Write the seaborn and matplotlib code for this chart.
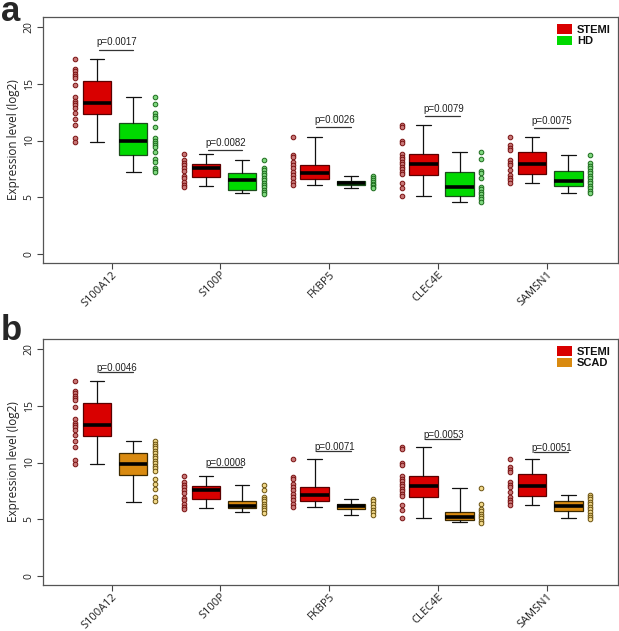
import numpy as np
import pandas as pd
import matplotlib
matplotlib.use('Agg')
import matplotlib.pyplot as plt
from matplotlib.patches import Patch
import seaborn as sns

sns.set_style('white')
plt.rcParams['font.family'] = ['Open Sans', 'DejaVu Sans']

# Data

genes = ['S100A12', 'S100P', 'FKBP5', 'CLEC4E', 'SAMSN1']

# box stats per gene: whisker low, Q1, median, Q3, whisker high
stemi_box = [[9.90, 12.35, 13.33, 15.25, 17.23],
             [5.97, 6.81, 7.55, 7.93, 8.78],
             [6.12, 6.61, 7.11, 7.84, 10.28],
             [5.14, 6.93, 7.93, 8.81, 11.37],
             [6.23, 7.02, 7.93, 9.01, 10.34]]
hd_box = [[7.25, 8.72, 9.99, 11.51, 13.86],
          [5.35, 5.64, 6.52, 7.16, 8.28],
          [5.79, 6.08, 6.26, 6.43, 6.90],
          [4.58, 5.11, 5.93, 7.25, 9.01],
          [5.35, 6.02, 6.43, 7.28, 8.69]]
scad_box = [[6.51, 8.94, 9.87, 10.80, 11.86],
            [5.64, 5.95, 6.20, 6.57, 8.03],
            [5.40, 5.93, 6.13, 6.31, 6.75],
            [4.73, 4.97, 5.20, 5.67, 7.77],
            [5.11, 5.72, 6.16, 6.60, 7.10]]

# individual samples (strip of dots beside each box)
stemi_points = [[17.2, 16.3, 16.1, 15.9, 15.7, 15.5, 14.9, 13.8, 13.5, 13.3, 13.1, 12.9, 12.4, 11.9, 11.4, 10.2, 9.9],
                [8.78, 8.28, 8.05, 7.84, 7.60, 7.34, 6.87, 6.67, 6.37, 6.08, 5.93],
                [10.28, 8.72, 8.52, 8.13, 7.84, 7.55, 7.25, 6.96, 6.67, 6.37, 6.08],
                [11.37, 11.16, 9.99, 9.75, 8.81, 8.57, 8.34, 8.13, 7.93, 7.69, 7.49, 7.25, 7.05, 6.28, 5.79, 5.14],
                [10.34, 9.60, 9.37, 9.16, 8.28, 8.05, 7.84, 7.40, 6.96, 6.72, 6.52, 6.28]]
hd_points = [[13.86, 13.19, 12.45, 12.16, 11.95, 11.22, 10.19, 9.99, 9.81, 9.60, 9.40, 9.01, 8.34, 8.13, 7.60, 7.40, 7.25],
             [8.28, 7.60, 7.40, 7.16, 6.96, 6.72, 6.52, 6.28, 6.08, 5.87, 5.64, 5.43, 5.26],
             [6.90, 6.70, 6.50, 6.35, 6.20, 6.05, 5.90, 5.79],
             [9.01, 8.34, 7.34, 7.11, 6.67, 5.93, 5.73, 5.49, 5.29, 5.05, 4.85, 4.61],
             [8.69, 7.99, 7.75, 7.55, 7.34, 7.11, 6.87, 6.67, 6.43, 6.23, 5.99, 5.79, 5.58, 5.35]]
scad_points = [[11.92, 11.68, 11.48, 11.27, 11.04, 10.80, 10.60, 10.40, 10.17, 9.96, 9.73, 9.52, 9.29, 8.56, 8.12, 7.68, 6.95, 6.57],
               [8.03, 7.60, 6.95, 6.75, 6.57, 6.37, 6.16, 5.98, 5.78, 5.58],
               [6.81, 6.57, 6.31, 6.07, 5.84, 5.64, 5.40],
               [7.77, 6.37, 5.93, 5.69, 5.49, 5.28, 5.08, 4.85, 4.70],
               [7.16, 6.95, 6.75, 6.51, 6.31, 6.07, 5.87, 5.64, 5.40, 5.20, 4.99]]

pvals_hd = ['p=0.0017', 'p=0.0082', 'p=0.0026', 'p=0.0079', 'p=0.0075']
pbar_hd = [18.0, 9.16, 11.2, 12.16, 11.07]
pvals_scad = ['p=0.0046', 'p=0.0008', 'p=0.0071', 'p=0.0053', 'p=0.0051']
pbar_scad = [17.97, 9.6, 11.04, 12.07, 10.9]

# Styles

RED, RED_EDGE, RED_PT, RED_PT_EDGE = '#d90000', '#5a0000', '#c87878', '#7a1010'
GREEN, GREEN_EDGE, GREEN_PT, GREEN_PT_EDGE = '#00d900', '#1c4d1c', '#7fd87f', '#1d6b1d'
GOLD, GOLD_EDGE, GOLD_PT, GOLD_PT_EDGE = '#d98a10', '#3d2a00', '#f2d98a', '#6b5210'
TEXT = '#222222'
ARIAL = ['Liberation Sans', 'DejaVu Sans']


def to_stats(box_rows):
    return [dict(whislo=r[0], q1=r[1], med=r[2], q3=r[3], whishi=r[4], fliers=[])
            for r in box_rows]


def to_frame(points, offset):
    rows = []
    for i, vals in enumerate(points):
        for v in vals:
            rows.append({'gene': genes[i], 'x': 3 * i + offset, 'value': v})
    return pd.DataFrame(rows)


def draw_panel(ax, ctrl_box, ctrl_points, ctrl_name, ctrl_style, pvals, pbar, txt_off):
    ctrl_col, ctrl_edge, ctrl_pt, ctrl_pt_edge = ctrl_style
    n = len(genes)
    pos_stemi = [3 * i + 1 for i in range(n)]
    pos_ctrl = [3 * i + 2 for i in range(n)]

    for stats, pos, fc, ec in [(to_stats(stemi_box), pos_stemi, RED, RED_EDGE),
                               (to_stats(ctrl_box), pos_ctrl, ctrl_col, ctrl_edge)]:
        ax.bxp(stats, positions=pos, widths=0.78, capwidths=0.4,
               patch_artist=True, showfliers=False,
               boxprops=dict(facecolor=fc, edgecolor=ec, linewidth=0.9),
               medianprops=dict(color='black', linewidth=2.6, solid_capstyle='butt'),
               whiskerprops=dict(color='#111111', linewidth=0.9),
               capprops=dict(color='#111111', linewidth=0.9))

    sns.scatterplot(data=to_frame(stemi_points, 1 - 0.6), x='x', y='value', ax=ax,
                    color=RED_PT, edgecolor=RED_PT_EDGE, linewidth=0.7, s=11, zorder=3)
    sns.scatterplot(data=to_frame(ctrl_points, 2 + 0.6), x='x', y='value', ax=ax,
                    color=ctrl_pt, edgecolor=ctrl_pt_edge, linewidth=0.7, s=11, zorder=3)

    for i in range(n):
        ax.plot([pos_stemi[i] + 0.05, pos_ctrl[i]], [pbar[i], pbar[i]],
                color='#333333', lw=0.9)
        ax.annotate(pvals[i], xy=((pos_stemi[i] + pos_ctrl[i]) / 2 + 0.05, pbar[i]),
                    xytext=(0, txt_off), textcoords='offset points',
                    ha='center', va='baseline', fontsize=7, color=TEXT, family=ARIAL)

    ax.set_xlim(-0.49, 15.37)
    ax.set_ylim(-0.8, 20.9)
    ax.set_yticks([0, 5, 10, 15, 20])
    ax.set_yticklabels(['0', '5', '10', '15', '20'], rotation=90, va='center',
                       fontsize=7.5, color=TEXT)
    ax.set_xticks([3 * i + 1.4 for i in range(n)])
    ax.set_xticklabels(genes, rotation=45, ha='right', va='top',
                       rotation_mode='anchor', fontsize=8, color=TEXT)
    ax.tick_params(axis='both', which='both', direction='out', length=4, width=0.8,
                   color='#444444', pad=2, left=True, bottom=True)
    ax.tick_params(axis='x', pad=0.5)
    ax.set_xlabel('')
    ax.set_ylabel('Expression level (log2)', fontsize=8.5, color=TEXT, labelpad=3)
    for sp in ax.spines.values():
        sp.set_color('#555555')
        sp.set_linewidth(0.9)

    handles = [Patch(facecolor=RED, edgecolor='none', label='STEMI'),
               Patch(facecolor=ctrl_col, edgecolor='none', label=ctrl_name)]
    leg = ax.legend(handles=handles, loc='upper right', bbox_to_anchor=(1.0, 1.0),
                    frameon=False, handlelength=1.35, handleheight=1.0,
                    handletextpad=0.45, labelspacing=0.05, borderaxespad=0.25,
                    prop=dict(family=ARIAL, weight='bold', size=8))
    for t in leg.get_texts():
        t.set_color('#111111')


fig = plt.figure(figsize=(6.19, 6.31), dpi=100, facecolor='white')
ax_a = fig.add_axes([0.0695, 0.5832, 0.929, 0.3899])
ax_b = fig.add_axes([0.0695, 0.0729, 0.929, 0.3899])

draw_panel(ax_a, hd_box, hd_points, 'HD', (GREEN, GREEN_EDGE, GREEN_PT, GREEN_PT_EDGE),
           pvals_hd, pbar_hd, 3.2)
draw_panel(ax_b, scad_box, scad_points, 'SCAD', (GOLD, GOLD_EDGE, GOLD_PT, GOLD_PT_EDGE),
           pvals_scad, pbar_scad, 0.8)

fig.text(0.001, 1 - 21 / 631, 'a', fontsize=25, fontweight='bold', family=ARIAL,
         va='baseline', ha='left')
fig.text(0.001, 1 - 340 / 631, 'b', fontsize=25, fontweight='bold', family=ARIAL,
         va='baseline', ha='left')

fig.savefig('out.png', dpi=100, facecolor='white')
